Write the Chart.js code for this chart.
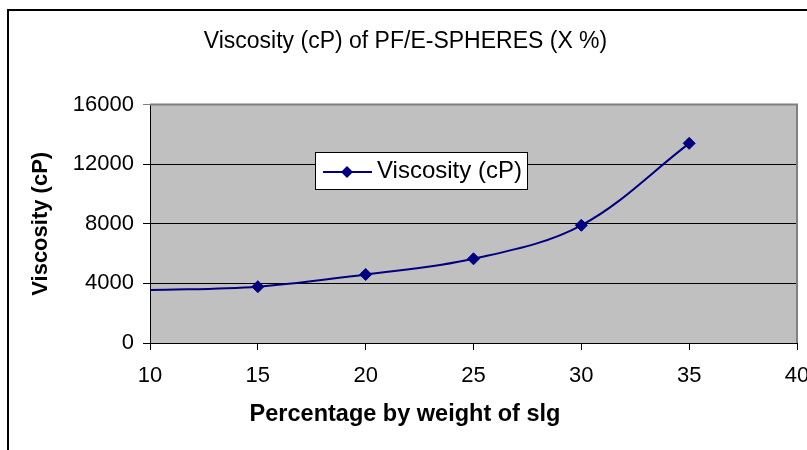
<!DOCTYPE html>
<html>
<head>
<meta charset="utf-8">
<script src="https://cdn.jsdelivr.net/npm/chart.js@4/dist/chart.umd.min.js"></script>
<style>
  html, body { margin: 0; padding: 0; background: #fff; }
  #wrap { width: 807px; height: 450px; position: relative; }
</style>
</head>
<body>
<div id="wrap"><canvas id="c" width="807" height="450"></canvas></div>
<script>
// ---- data ----
const chartTitle = 'Viscosity (cP) of PF/E-SPHERES (X %)';
const seriesName = 'Viscosity (cP)';
const xAxisTitle = 'Percentage by weight of slg';
const yAxisTitle = 'Viscosity (cP)';
const percentages = [10, 15, 20, 25, 30, 35];
const viscosity = [3550, 3780, 4600, 5650, 7900, 13400];
const showMarker = [false, true, true, true, true, true];
const xTicks = [10, 15, 20, 25, 30, 35, 40];
const yTicks = [0, 4000, 8000, 12000, 16000];

const FONT = "'Liberation Sans', Arial, sans-serif";
const NAVY = '#000080';

const decor = {
  id: 'decor',
  beforeDraw(chart) {
    const { ctx, chartArea: a } = chart;
    ctx.save();
    ctx.fillStyle = '#fff';
    ctx.fillRect(0, 0, chart.width, chart.height);
    // outer chart border
    ctx.strokeStyle = '#000';
    ctx.lineWidth = 2;
    ctx.beginPath();
    ctx.moveTo(8, chart.height + 5);
    ctx.lineTo(8, 10);
    ctx.lineTo(chart.width + 5, 10);
    ctx.stroke();
    // plot area
    ctx.fillStyle = '#c0c0c0';
    ctx.fillRect(a.left, a.top, a.right - a.left, a.bottom - a.top);
    ctx.restore();
  },
  beforeDatasetsDraw(chart) {
    const { ctx, chartArea: a } = chart;
    ctx.save();
    ctx.strokeStyle = '#808080';
    ctx.lineWidth = 2;
    ctx.beginPath();
    ctx.moveTo(a.left, a.top);
    ctx.lineTo(a.right, a.top);
    ctx.lineTo(a.right, a.bottom);
    ctx.stroke();
    ctx.restore();
  },
  afterDraw(chart) {
    const { ctx } = chart;
    ctx.save();
    // x axis title
    ctx.fillStyle = '#000';
    ctx.font = 'bold 23.5px ' + FONT;
    ctx.textAlign = 'center';
    ctx.textBaseline = 'middle';
    ctx.fillText(xAxisTitle, 405, 415);
    // legend box
    const bx = 315, by = 152, bw = 212, bh = 37;
    ctx.fillStyle = '#fff';
    ctx.fillRect(bx, by, bw, bh);
    ctx.strokeStyle = '#000';
    ctx.lineWidth = 1;
    ctx.strokeRect(bx + 0.5, by + 0.5, bw, bh);
    const ly = by + 20;
    ctx.strokeStyle = NAVY;
    ctx.lineWidth = 2;
    ctx.beginPath();
    ctx.moveTo(323, ly);
    ctx.lineTo(372, ly);
    ctx.stroke();
    ctx.fillStyle = NAVY;
    ctx.beginPath();
    ctx.moveTo(347, ly - 6);
    ctx.lineTo(353, ly);
    ctx.lineTo(347, ly + 6);
    ctx.lineTo(341, ly);
    ctx.closePath();
    ctx.fill();
    ctx.fillStyle = '#000';
    ctx.font = '24px ' + FONT;
    ctx.textAlign = 'left';
    ctx.textBaseline = 'alphabetic';
    ctx.fillText(seriesName, 377, 178);
    ctx.restore();
  }
};

new Chart(document.getElementById('c'), {
  type: 'line',
  data: {
    datasets: [{
      label: seriesName,
      data: percentages.map((x, i) => ({ x: x, y: viscosity[i] })),
      borderColor: NAVY,
      backgroundColor: NAVY,
      borderWidth: 2,
      pointStyle: 'rectRot',
      pointRadius: showMarker.map(m => m ? 6 : 0),
      pointBackgroundColor: NAVY,
      pointBorderColor: NAVY,
      pointBorderWidth: 1,
      tension: 0.35,
      fill: false,
      clip: 0
    }]
  },
  options: {
    responsive: false,
    animation: false,
    devicePixelRatio: 1,
    layout: { padding: { left: 14, right: 10, top: 0, bottom: 0 } },
    plugins: {
      legend: { display: false },
      tooltip: { enabled: false },
      title: {
        display: true,
        text: chartTitle,
        color: '#000',
        font: { family: FONT, size: 23, weight: 'normal' },
        padding: { top: 28, bottom: 49 }
      }
    },
    scales: {
      x: {
        type: 'linear',
        min: 10, max: 40,
        afterBuildTicks: s => { s.ticks = xTicks.map(v => ({ value: v })); },
        afterFit: s => { s.height = 107; s.paddingLeft = 0; s.paddingRight = 0; },
        grid: { drawOnChartArea: false, tickLength: 7, color: '#000', lineWidth: 1 },
        border: { color: '#000', width: 1 },
        ticks: {
          color: '#000', font: { family: FONT, size: 22 }, padding: 13,
          maxRotation: 0, autoSkip: false,
          callback: v => String(v)
        }
      },
      y: {
        type: 'linear',
        min: 0, max: 16000,
        afterBuildTicks: s => { s.ticks = yTicks.map(v => ({ value: v })); },
        afterFit: s => { s.width = 136; s.paddingTop = 0; s.paddingBottom = 0; },
        grid: {
          tickLength: 7,
          lineWidth: 1,
          color: c => (c.tick && c.tick.value === 16000) ? '#808080' : '#000'
        },
        border: { color: '#000', width: 1 },
        ticks: {
          color: '#000', font: { family: FONT, size: 22 }, padding: 9, autoSkip: false,
          callback: v => String(v)
        },
        title: {
          display: true,
          text: yAxisTitle,
          color: '#000',
          font: { family: FONT, size: 22, weight: 'bold' },
          padding: { top: 14, bottom: 0 }
        }
      }
    }
  },
  plugins: [decor]
});
</script>
</body>
</html>
